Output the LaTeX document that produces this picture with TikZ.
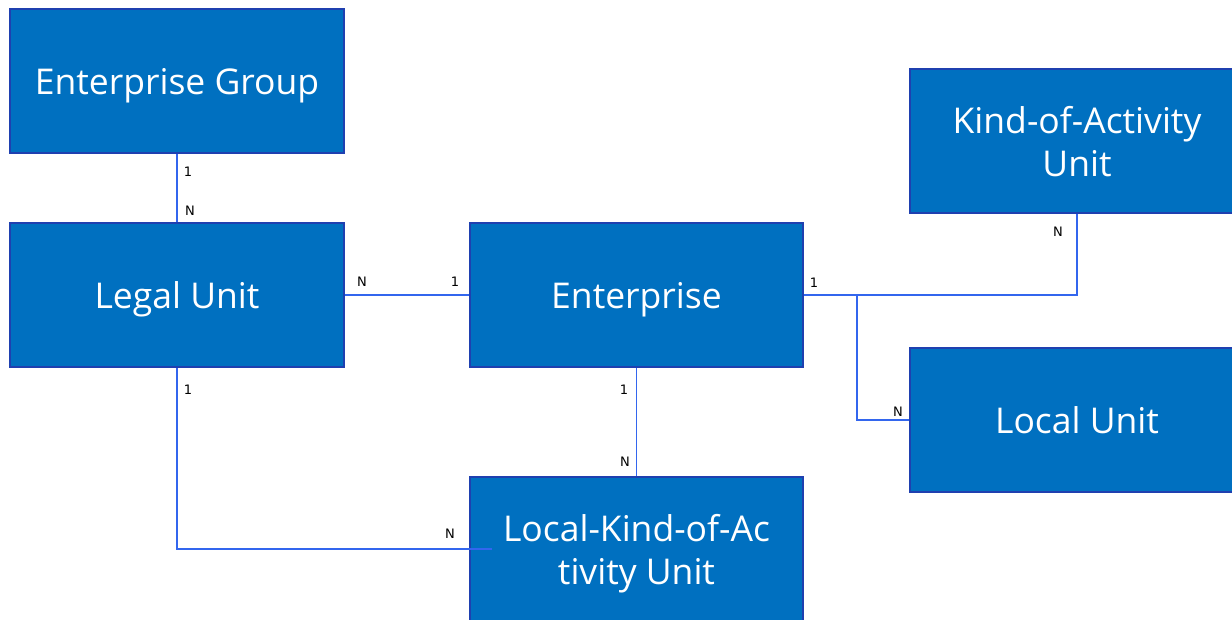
\documentclass[tikz,border=0pt]{standalone}
\usepackage{fontspec}
\setmainfont{Open Sans}
\newfontfamily\lblfont{DejaVu Sans}
\definecolor{boxfill}{HTML}{0070C0}
\definecolor{boxline}{HTML}{1F40B0}
\definecolor{linec}{HTML}{3366EE}
\begin{document}
\begin{tikzpicture}[x=1pt,y=-1pt,
  entity/.style={rectangle,fill=boxfill,draw=boxline,line width=2pt,text=white,
    minimum width=334pt,minimum height=144pt,inner sep=0pt,align=center,
    text depth=0pt,font=\fontsize{35.5}{43}\selectfont},
  rel/.style={draw=linec,line width=1.6pt},
  card/.style={font=\lblfont\fontsize{13}{13}\selectfont,text=black,inner sep=0pt}]
\useasboundingbox (0,0) rectangle (1232,620);
\clip (0,0) rectangle (1232,620);
\fill[white] (0,0) rectangle (1232,620);
\node[entity] (eg) at (177,81) {Enterprise Group};
\node[entity] (lu) at (177,295) {Legal Unit};
\node[entity,minimum width=333pt] (ent) at (636.5,295) {Enterprise};
\node[entity] (kau) at (1077,141) {Kind-of-Activity\\Unit};
\node[entity] (loc) at (1077,420) {Local Unit};
\node[entity,minimum width=333pt] (lkau) at (636.5,549) {Local-Kind-of-Ac\\tivity Unit};
% connectors
\draw[rel] (eg.south) -- (lu.north);
\draw[rel] (lu.east) -- (ent.west);
\coordinate (br) at (857,295);
\draw[rel] (ent.east) -| (kau.south);
\draw[rel] (br) |- (loc.west);
\draw[rel] (ent.south) -- (lkau.north);
\coordinate (lkin) at (492,549);
\draw[rel] (lu.south) |- (lkin);
% cardinalities
\node[card] (c1) at (188,172) {1};
\node[card] (c2) at (190,211) {N};
\node[card] (c3) at (362,282) {N};
\node[card] (c4) at (455,282) {1};
\node[card] (c5) at (814,283) {1};
\node[card] (c6) at (1058,232) {N};
\node[card] (c7) at (898,412) {N};
\node[card] (c8) at (624,390) {1};
\node[card] (c9) at (625,462) {N};
\node[card] (c10) at (188,390) {1};
\node[card] (c11) at (450,534) {N};
\end{tikzpicture}
\end{document}
